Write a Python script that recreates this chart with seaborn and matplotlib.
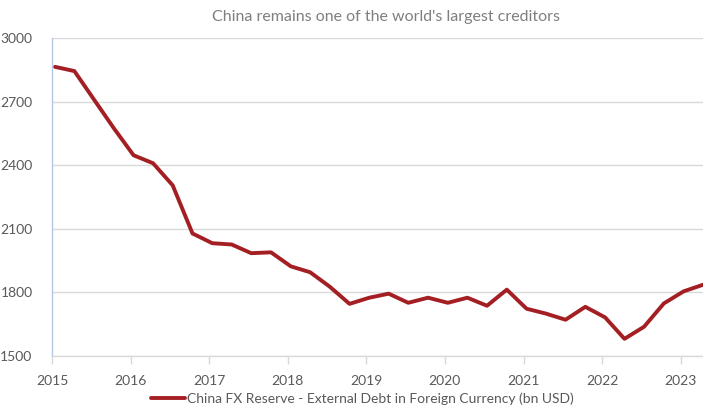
import matplotlib
matplotlib.use("Agg")
import matplotlib.pyplot as plt
import seaborn as sns
import pandas as pd

title = "China remains one of the world's largest creditors"
series_name = "China FX Reserve - External Debt in Foreign Currency (bn USD)"
values = [2864, 2844, 2710, 2575, 2447, 2409, 2305, 2078,
          2032, 2026, 1985, 1989, 1923, 1895, 1827, 1746,
          1775, 1794, 1751, 1775, 1751, 1775, 1737, 1813,
          1723, 1700, 1671, 1732, 1682, 1581, 1638, 1748,
          1805, 1836]
dates = pd.date_range("2015-01-01", periods=len(values), freq="QS") + pd.Timedelta(days=14)
y_ticks = [1500, 1800, 2100, 2400, 2700, 3000]
x_tick_years = list(range(2015, 2024))

df = pd.DataFrame({"date": dates, "value": values})

sns.set_theme(style="white")
plt.rcParams["font.family"] = ["Lato", "DejaVu Sans"]

fig = plt.figure(figsize=(7.03, 4.07), dpi=100)
ax = fig.add_axes([52/703, 1 - 356/407, (703-52)/703, (356-38)/407])

line_color = "#a31f24"
sns.lineplot(data=df, x="date", y="value", ax=ax, color=line_color, linewidth=2.8,
             label=series_name, legend=False)

ax.set_ylim(1500, 3000)
ax.set_yticks(y_ticks)
ax.set_xlim(pd.Timestamp("2015-01-01"), dates[-1])
ax.set_xticks([pd.Timestamp(f"{y}-01-01") for y in x_tick_years])
ax.set_xticklabels([str(y) for y in x_tick_years])
ax.set_xlabel("")
ax.set_ylabel("")

ax.grid(axis="y", color="#d9d9d9", linewidth=1)
ax.set_axisbelow(True)
for s in ["top", "right"]:
    ax.spines[s].set_visible(False)
ax.spines["left"].set_color("#b4c7e7")
ax.spines["left"].set_linewidth(1)
ax.spines["bottom"].set_color("#d9d9d9")
ax.spines["bottom"].set_linewidth(1)

ax.tick_params(axis="x", which="both", bottom=True, length=6, width=1, color="#d9d9d9",
               labelsize=10, labelcolor="#595959", pad=8)
ax.tick_params(axis="y", left=False, labelsize=10, labelcolor="#595959", pad=8)

fig.text(386/703, 1 - 17/407, title, ha="center", va="center", fontsize=11.5, color="#7f7f7f")

handles, labels = ax.get_legend_handles_labels()
fig.legend(handles, labels, loc="center", bbox_to_anchor=(362/703, 1 - 399/407), frameon=False,
           fontsize=10, labelcolor="#595959", handlelength=2.5, handletextpad=0.1,
           borderpad=0, borderaxespad=0)

fig.savefig("out.png", dpi=100)
